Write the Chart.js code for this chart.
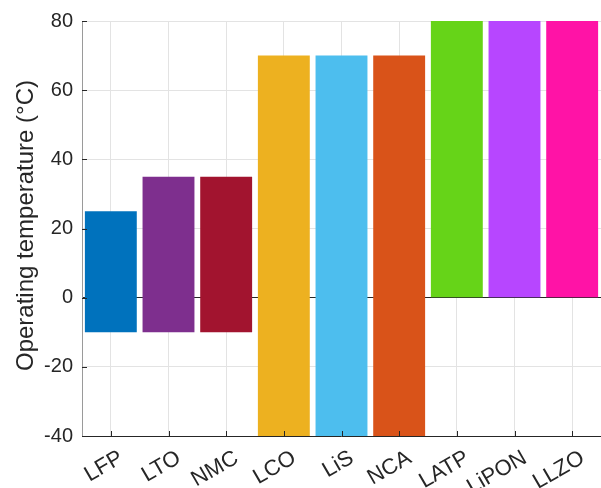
<!DOCTYPE html>
<html>
<head>
<meta charset="utf-8">
<script src="https://cdn.jsdelivr.net/npm/chart.js@4/dist/chart.umd.min.js"></script>
<style>
  html, body { margin: 0; padding: 0; background: #fff; }
  #wrap { width: 601px; height: 488px; }
</style>
</head>
<body>
<div id="wrap"><canvas id="c" width="601" height="488"></canvas></div>
<script>
// Battery chemistries / electrolytes
const categories = ['LFP', 'LTO', 'NMC', 'LCO', 'LiS', 'NCA', 'LATP', 'LiPON', 'LLZO'];
// Operating temperature window (°C): lower and upper limits
const tempLow  = [-10, -10, -10, -40, -40, -40, 0, 0, 0];
const tempHigh = [ 25,  35,  35,  70,  70,  70, 80, 80, 80];
// Y axis tick range
const yMin = -40, yMax = 80, yStep = 20;
const yTitle = 'Operating temperature (°C)';

const barColors = ['#0072BD', '#7E2F8E', '#A2142F', '#EDB120', '#4DBEEE', '#D95319', '#66D418', '#B746FF', '#FF13A6'];

const ranges = categories.map((_, i) => [tempLow[i], tempHigh[i]]);
const FONT = 'Liberation Sans, Arial, sans-serif';
const INK = '#262626';

// Inward tick marks, bottom axis line, rotated category labels and y title
const axisDecor = {
  id: 'axisDecor',
  afterDatasetsDraw(chart) {
    const ctx = chart.ctx;
    const area = chart.chartArea;
    const xs = chart.scales.x, ys = chart.scales.y;
    ctx.save();
    ctx.strokeStyle = INK;
    ctx.lineWidth = 1;
    ys.ticks.forEach((t, i) => {
      const y = Math.round(ys.getPixelForTick(i)) + 0.5;
      ctx.beginPath();
      ctx.moveTo(area.left, y);
      ctx.lineTo(area.left + 5, y);
      ctx.stroke();
    });
    xs.ticks.forEach((t, i) => {
      const x = Math.round(xs.getPixelForTick(i)) + 0.5;
      ctx.beginPath();
      ctx.moveTo(x, area.bottom);
      ctx.lineTo(x, area.bottom - 5);
      ctx.stroke();
    });
    ctx.beginPath();
    ctx.moveTo(area.left, Math.round(area.bottom) + 0.5);
    ctx.lineTo(area.right, Math.round(area.bottom) + 0.5);
    ctx.stroke();

    // category labels, rotated 30°
    ctx.fillStyle = INK;
    ctx.font = '22px ' + FONT;
    ctx.textAlign = 'right';
    ctx.textBaseline = 'top';
    xs.ticks.forEach((t, i) => {
      const x = xs.getPixelForTick(i);
      ctx.save();
      ctx.translate(x + 5, area.bottom + 11);
      ctx.rotate(-Math.PI / 6);
      ctx.fillText(categories[i], 0, 0);
      ctx.restore();
    });

    // y axis title
    ctx.font = '24px ' + FONT;
    ctx.textAlign = 'center';
    ctx.textBaseline = 'middle';
    ctx.save();
    ctx.translate(26, (area.top + area.bottom) / 2 - 3);
    ctx.rotate(-Math.PI / 2);
    ctx.fillText(yTitle, 0, 0);
    ctx.restore();
    ctx.restore();
  }
};

new Chart(document.getElementById('c'), {
  type: 'bar',
  data: {
    labels: categories,
    datasets: [{
      data: ranges,
      backgroundColor: barColors,
      borderWidth: 0,
      borderSkipped: false,
      barPercentage: 0.9,
      categoryPercentage: 1.0
    }]
  },
  options: {
    responsive: false,
    animation: false,
    layout: { padding: { top: 21, right: 0, left: 0, bottom: 0 } },
    plugins: {
      legend: { display: false },
      tooltip: { enabled: false }
    },
    scales: {
      x: {
        grid: { color: '#e3e3e3', lineWidth: 1, drawTicks: false, offset: false },
        border: { display: false },
        ticks: { display: false },
        afterFit(scale) { scale.height = 52; }
      },
      y: {
        min: yMin, max: yMax,
        grid: {
          color: ctx => (ctx.tick && ctx.tick.value === 0) ? INK : '#e3e3e3',
          lineWidth: 1,
          drawTicks: false
        },
        border: { display: true, color: '#9a9a9a', width: 1 },
        ticks: {
          stepSize: yStep,
          color: INK,
          font: { family: FONT, size: 20 },
          padding: 9
        },
        afterFit(scale) { scale.width = 82; }
      }
    }
  },
  plugins: [axisDecor]
});
</script>
</body>
</html>
